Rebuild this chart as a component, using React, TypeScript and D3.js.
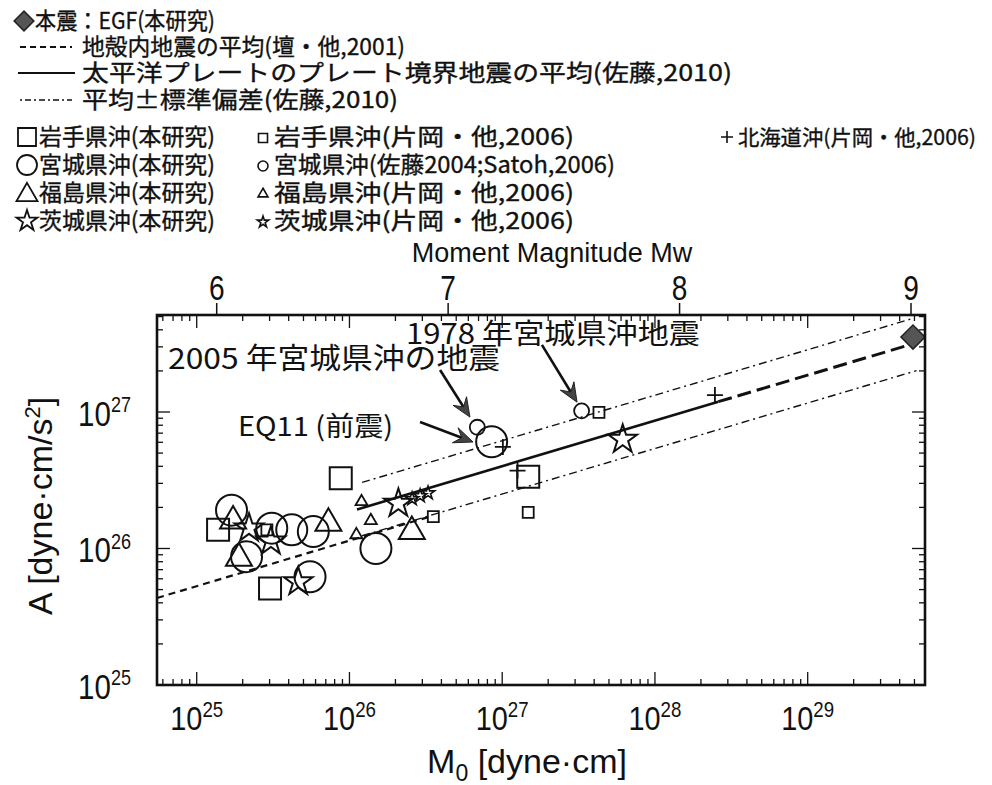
import React from "react";
import * as d3 from "d3";

type P = [number, number]; // [M0 dyne-cm, A dyne-cm/s^2]

// ---- data ----
const iwateStudy: P[] = [[8.77e25, 3.27e26], [1.38e25, 1.37e26], [3.02e25, 5.1e25], [1.48e27, 3.36e26]];
const miyagiStudy: P[] = [[1.69e25, 1.91e26], [3.1e25, 1.41e26], [4.19e25, 1.37e26], [5.8e25, 1.33e26], [2.12e25, 8.7e25], [5.52e25, 6.2e25], [1.49e26, 1.0e26], [8.53e26, 6.05e26]];
const fukushimaStudy: P[] = [[1.73e25, 1.59e26], [7.28e25, 1.53e26], [1.89e25, 8.5e25], [2.56e26, 1.33e26]];
const ibarakiStudy: P[] = [[2.2e25, 1.41e26], [3.06e25, 1.13e26], [4.62e25, 5.7e25], [2.09e26, 2.14e26], [6.15e27, 6.3e26]];
const iwateKataoka: P[] = [[3.54e26, 1.71e26], [1.48e27, 1.84e26], [4.3e27, 9.95e26], [2.88e25, 1.37e26]];
const miyagiSatoh: P[] = [[6.87e26, 7.73e26], [3.31e27, 1.02e27]];
const fukushimaKataoka: P[] = [[1.2e26, 2.2e26], [1.38e26, 1.6e26], [1.11e26, 1.26e26]];
const ibarakiKataoka: P[] = [[2.57e26, 2.31e26], [2.9e26, 2.43e26], [3.27e26, 2.55e26]];
const hokkaidoKataoka: P[] = [[2.47e28, 1.33e27], [1.26e27, 3.72e26], [1.01e27, 5.55e26]];
const mainshockEGF: P[] = [[4.89e29, 3.54e27]];

const danLine: P[] = [[5.5e24, 4.34e25], [3.53e26, 1.74e26]];
const meanLine: P[] = [[1.12e26, 1.93e26], [2.6e28, 1.19e27]];
const meanExtrapolated: P[] = [[2.6e28, 1.19e27], [4.9e29, 3.16e27]];
const upperSigma: P[] = [[1.21e26, 3.05e26], [4.89e29, 4.85e27]];
const lowerSigma: P[] = [[1.21e26, 1.24e26], [5.16e29, 2.01e27]];

// annotation arrows: [tail, head] in data space
const arrow2005: P[] = [[3.92e26, 2.03e27], [6.15e26, 9.18e26]];
const arrowEQ11: P[] = [[2.9e26, 8.45e26], [6.44e26, 6.03e26]];
const arrow1978: P[] = [[1.82e27, 3.1e27], [3.09e27, 1.18e27]];

const xExponents = [25, 26, 27, 28, 29];
const yExponents = [25, 26, 27];
const mwTicks = [6, 7, 8, 9];

const legendLines = [
  "本震：EGF(本研究)",
  "地殻内地震の平均(壇・他,2001)",
  "太平洋プレートのプレート境界地震の平均(佐藤,2010)",
  "平均±標準偏差(佐藤,2010)",
];
const legendStudy = ["岩手県沖(本研究)", "宮城県沖(本研究)", "福島県沖(本研究)", "茨城県沖(本研究)"];
const legendOther = ["岩手県沖(片岡・他,2006)", "宮城県沖(佐藤2004;Satoh,2006)", "福島県沖(片岡・他,2006)", "茨城県沖(片岡・他,2006)"];
const legendHokkaido = "北海道沖(片岡・他,2006)";
const annotation1978 = "1978 年宮城県沖地震";
const annotation2005 = "2005 年宮城県沖の地震";
const annotationEQ11 = "EQ11 (前震)";

const JP = "'Noto Sans CJK JP', sans-serif";
const LAT = "'Liberation Sans', Arial, sans-serif";

const symSquare = (s: number) => d3.symbol(d3.symbolSquare, s * s)()!;
const symCircle = (r: number) => d3.symbol(d3.symbolCircle, Math.PI * r * r)()!;
const symTriangle = (w: number) => {
  const yy = w / (2 * Math.sqrt(3));
  return d3.symbol(d3.symbolTriangle, yy * yy * 3 * Math.sqrt(3))()!;
};
const symStar = (r: number) => d3.symbol(d3.symbolStar, (r * r) / 0.8908130915292852)()!;
const symPlus = (h: number) => `M${-h},0H${h}M0,${-h}V${h}`;
const symDiamond = (s: number) => d3.symbol(d3.symbolSquare, s * s)()!;

export default function App() {
  const x = d3.scaleLog().domain([10 ** 24.74, 10 ** 29.768]).range([157, 925]);
  const y = d3.scaleLog().domain([1e25, 10 ** 27.7106]).range([685, 315]);
  const mw = d3.scaleLinear().domain([6, 9]).range([216.7, 911]);
  const line = d3.line<P>().x((d) => x(d[0])).y((d) => y(d[1]));

  const [x0, x1] = x.range();
  const [yb, yt] = y.range();

  const xt = x.ticks();
  const yt_ = y.ticks();
  const isMajor = (v: number) => Math.abs(Math.log10(v) - Math.round(Math.log10(v))) < 1e-9;

  const marks = (data: P[], path: string, sw: number, key: string) =>
    data.map((d, i) => (
      <path key={key + i} d={path} transform={`translate(${x(d[0])},${y(d[1])})`} fill="none" stroke="#111" strokeWidth={sw} />
    ));

  const arrow = (a: P[], key: string) => {
    const [tx, ty] = [x(a[0][0]), y(a[0][1])];
    const [hx, hy] = [x(a[1][0]), y(a[1][1])];
    const ang = Math.atan2(hy - ty, hx - tx);
    const L = 19, Wd = 8, N = 12;
    const c = Math.cos(ang), s = Math.sin(ang);
    const pt = (along: number, perp: number) => [hx - along * c - perp * s, hy - along * s + perp * c];
    const p1 = pt(L, Wd), p2 = pt(N, 0), p3 = pt(L, -Wd);
    return (
      <g key={key}>
        <line x1={tx} y1={ty} x2={p2[0]} y2={p2[1]} stroke="#111" strokeWidth={2.6} />
        <path d={`M${hx},${hy}L${p1[0]},${p1[1]}L${p2[0]},${p2[1]}L${p3[0]},${p3[1]}Z`} fill="#444" stroke="#222" strokeWidth={1} />
      </g>
    );
  };

  const rows = [21, 47, 73, 100, 137, 165, 193, 221];
  const lfs = 23;
  const bl = 8;
  // legend text extents [x, length]
  const topExt: [number, number][] = [[35, 180], [82, 323], [82, 650], [82, 316]];
  const studyExt: [number, number] = [39, 176];
  const otherExt: [number, number][] = [[274, 300], [274, 341], [274, 300], [274, 300]];
  const hokExt: [number, number] = [738, 238];

  return (
    <svg width={992} height={785} style={{ position: "absolute", left: 0, top: 0, background: "#fff" }}>
      <rect x={0} y={0} width={992} height={785} fill="#fff" />

      {/* legend */}
      <g fontFamily={JP} fontSize={lfs} fill="#111" stroke="#111" strokeWidth={0.35}>
        <path d={symDiamond(14)} transform={`translate(24,${rows[0]}) rotate(45)`} fill="#555" stroke="#222" strokeWidth={1.5} />
        {legendLines.map((t, i) => (
          <text key={"ll" + i} x={topExt[i][0]} y={rows[i] + bl} textLength={topExt[i][1]} lengthAdjust="spacingAndGlyphs">{t}</text>
        ))}
        <line x1={20} x2={72} y1={rows[1]} y2={rows[1]} stroke="#111" strokeWidth={2} strokeDasharray="6,4" />
        <line x1={18} x2={75} y1={rows[2]} y2={rows[2]} stroke="#111" strokeWidth={2} />
        <line x1={20} x2={72} y1={rows[3]} y2={rows[3]} stroke="#111" strokeWidth={1.5} strokeDasharray="2,3,6,3" />

        {[symSquare(18), symCircle(10), symTriangle(21), symStar(11)].map((p, i) => (
          <path key={"ls" + i} d={p} transform={`translate(27,${rows[4 + i] + (i === 2 ? 2 : 0)})`} fill="none" stroke="#111" strokeWidth={1.8} />
        ))}
        {legendStudy.map((t, i) => (
          <text key={"lt" + i} x={studyExt[0]} y={rows[4 + i] + bl} textLength={studyExt[1]} lengthAdjust="spacingAndGlyphs">{t}</text>
        ))}
        {[symSquare(9), symCircle(5), symTriangle(10), symStar(6)].map((p, i) => (
          <path key={"lo" + i} d={p} transform={`translate(263,${rows[4 + i] + 1})`} fill="none" stroke="#111" strokeWidth={1.6} />
        ))}
        {legendOther.map((t, i) => (
          <text key={"lot" + i} x={otherExt[i][0]} y={rows[4 + i] + bl} textLength={otherExt[i][1]} lengthAdjust="spacingAndGlyphs">{t}</text>
        ))}
        <path d={symPlus(6)} transform={`translate(727,${rows[4]})`} stroke="#111" strokeWidth={1.6} />
        <text x={hokExt[0]} y={rows[4] + bl} fontSize={21} textLength={hokExt[1]} lengthAdjust="spacingAndGlyphs">{legendHokkaido}</text>
      </g>

      {/* top axis title and Mw ticks */}
      <text x={552} y={262} textAnchor="middle" fontFamily={LAT} fontSize={27} fill="#111">Moment Magnitude Mw</text>
      {mwTicks.map((m) => (
        <g key={"mw" + m}>
          <line x1={mw(m)} x2={mw(m)} y1={yt} y2={yt - 12} stroke="#111" strokeWidth={1.5} />
          <text transform={`translate(${mw(m)},300) scale(0.78,1)`} textAnchor="middle" fontFamily={LAT} fontSize={36} fill="#111">{m}</text>
        </g>
      ))}

      {/* ticks */}
      <g stroke="#111" strokeWidth={1.3}>
        {xt.filter((v) => x(v) > x0 + 1 && x(v) < x1 - 1).map((v, i) => {
          const L = isMajor(v) ? 13 : 6;
          return (
            <g key={"xt" + i}>
              <line x1={x(v)} x2={x(v)} y1={yb} y2={yb - L} />
              <line x1={x(v)} x2={x(v)} y1={yt} y2={yt + L} />
            </g>
          );
        })}
        {yt_.filter((v) => y(v) < yb - 1 && y(v) > yt + 1).map((v, i) => {
          const L = isMajor(v) ? 13 : 6;
          return (
            <g key={"yt" + i}>
              <line x1={x0} x2={x0 + L} y1={y(v)} y2={y(v)} />
              <line x1={x1} x2={x1 - L} y1={y(v)} y2={y(v)} />
            </g>
          );
        })}
      </g>

      {/* x tick labels */}
      {xExponents.map((e) => (
        <text key={"xl" + e} transform={`translate(${x(10 ** e)},730) scale(0.85,1)`} textAnchor="middle" fontFamily={LAT} fill="#111">
          <tspan fontSize={34}>10</tspan>
          <tspan fontSize={22} dy={-13}>{e}</tspan>
        </text>
      ))}
      {/* y tick labels */}
      {yExponents.map((e) => (
        <text key={"yl" + e} transform={`translate(131,${y(10 ** e) + 14}) scale(0.82,1)`} textAnchor="end" fontFamily={LAT} fill="#111">
          <tspan fontSize={36}>10</tspan>
          <tspan fontSize={22} dy={-14}>{e}</tspan>
        </text>
      ))}

      {/* axis titles */}
      <text x={527} y={773} textAnchor="middle" fontFamily={LAT} fontSize={34} fill="#111">
        M<tspan fontSize={23} dy={8}>0</tspan>
        <tspan dy={-8}> [dyne·cm]</tspan>
      </text>
      <text transform="translate(52,506) rotate(-90)" textAnchor="middle" fontFamily={LAT} fontSize={34} fill="#111">
        A [dyne·cm/s<tspan fontSize={22} dy={-12}>2</tspan>
        <tspan dy={12}>]</tspan>
      </text>

      {/* lines */}
      <path d={line(danLine)!} fill="none" stroke="#111" strokeWidth={2.2} strokeDasharray="7,5" />
      <path d={line(upperSigma)!} fill="none" stroke="#111" strokeWidth={1.4} strokeDasharray="8,4,2,4" />
      <path d={line(lowerSigma)!} fill="none" stroke="#111" strokeWidth={1.4} strokeDasharray="8,4,2,4" />
      <path d={line(meanLine)!} fill="none" stroke="#111" strokeWidth={2.6} />
      <path d={line(meanExtrapolated)!} fill="none" stroke="#111" strokeWidth={3} strokeDasharray="14,6" />

      {/* markers: this study */}
      {marks(iwateStudy, symSquare(22), 2, "is")}
      {marks(miyagiStudy, symCircle(15.5), 2, "ms")}
      {marks(fukushimaStudy, symTriangle(26), 2, "fs")}
      {marks(ibarakiStudy, symStar(15), 2, "bs")}
      {/* markers: other studies */}
      {marks(iwateKataoka, symSquare(11), 1.8, "ik")}
      {marks(miyagiSatoh, symCircle(7.5), 1.8, "mk")}
      {marks(fukushimaKataoka, symTriangle(12), 1.8, "fk")}
      {marks(ibarakiKataoka, symStar(7), 1.6, "bk")}
      {marks(hokkaidoKataoka, symPlus(8), 1.8, "hk")}
      {mainshockEGF.map((d, i) => (
        <path key={"eg" + i} d={symDiamond(17)} transform={`translate(${x(d[0])},${y(d[1])}) rotate(45)`} fill="#555" stroke="#222" strokeWidth={1.5} />
      ))}

      {/* annotations */}
      <text x={406} y={344} fontFamily={JP} fontSize={28} textLength={294} lengthAdjust="spacingAndGlyphs" fill="#111">{annotation1978}</text>
      <text x={168} y={369} fontFamily={JP} fontSize={29} textLength={332} lengthAdjust="spacingAndGlyphs" fill="#111">{annotation2005}</text>
      <text x={238} y={436} fontFamily={JP} fontSize={27} textLength={155} lengthAdjust="spacingAndGlyphs" fill="#111">{annotationEQ11}</text>
      {arrow(arrow2005, "a1")}
      {arrow(arrowEQ11, "a2")}
      {arrow(arrow1978, "a3")}

      {/* frame */}
      <rect x={x0} y={yt} width={x1 - x0} height={yb - yt} fill="none" stroke="#111" strokeWidth={2.6} />
    </svg>
  );
}
